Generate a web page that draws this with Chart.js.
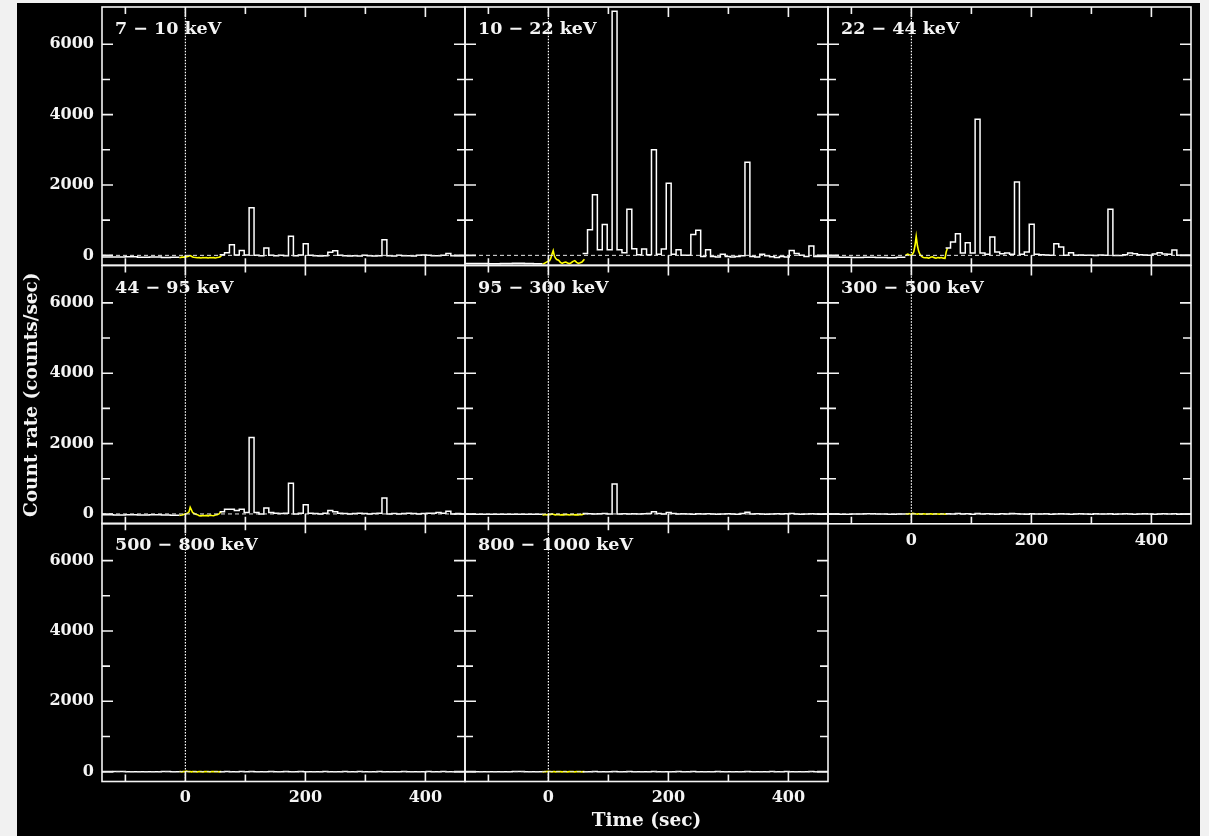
<!DOCTYPE html>
<html>
<head>
<meta charset="utf-8">
<title>Light curves by energy band</title>
<script src="https://cdn.jsdelivr.net/npm/chart.js@4.4.1/dist/chart.umd.min.js"></script>
<style>
    html, body { margin: 0; padding: 0; width: 1209px; height: 836px; overflow: hidden; background: #f1f1f1; }
    #sheet { position: absolute; left: 17px; top: 3px; width: 1183px; height: 833px; background: #000; }
    canvas { position: absolute; left: 0; top: 0; }
</style>
</head>
<body>
<div id="sheet"></div>
<script>
// Energy bands, one panel each
const BANDS = ['7 − 10 keV', '10 − 22 keV', '22 − 44 keV', '44 − 95 keV',
               '95 − 300 keV', '300 − 500 keV', '500 − 800 keV', '800 − 1000 keV'];

// Axis ticks
const X_TICKS = [-100, 0, 100, 200, 300, 400];
const X_LABELS = [0, 200, 400];
const Y_TICKS = [0, 1000, 2000, 3000, 4000, 5000, 6000];
const Y_LABELS = [0, 2000, 4000, 6000];

// Binned count rate after the trigger (bins of BIN_WIDTH s from BIN_START)
const BIN_START = 57;
const BIN_WIDTH = 8.2;

const hist_7_10 = [20, 75, 300, 10, 140, 10, 1355, 0, -10, 210,
                   0, -10, 0, -10, 540, -10, 10, 330, 0, -10,
                   -20, -10, 85, 130, 0, -10, -20, -10, -20, 0,
                   -10, -20, -10, 445, -10, -20, 0, -10, -10, -20,
                   0, 10, 0, -10, -10, 0, 50, -10, -10, -10];
const hist_10_22 = [50, 730, 1725, 160, 880, 160, 6940, 160, 75, 1310,
                    190, 20, 180, 20, 3000, 30, 180, 2050, 30, 160,
                    0, 0, 590, 710, -30, 160, -30, -50, 30, -30,
                    -50, -30, -10, 2645, -30, -50, 30, -10, -40, -60,
                    -30, -50, 140, 50, 0, -30, 265, -30, -30, -30];
const hist_22_44 = [208, 380, 617, 66, 361, 66, 3867, 66, 28, 521,
                    95, 47, 66, 28, 2086, 28, 95, 882, 28, 20,
                    10, 5, 330, 237, 5, 76, 5, 10, 0, 5,
                    -5, 10, 0, 1308, -5, -5, 20, 66, 47, 20,
                    10, 0, 38, 76, 38, 28, 150, 0, 0, 0];
const hist_44_95 = [66, 133, 133, 95, 133, 38, 2170, 38, 0, 170,
                    38, 20, 10, 20, 872, 0, 20, 265, 20, 10,
                    0, 20, 95, 66, 20, 10, 0, 10, 20, 10,
                    0, 10, 20, 455, 0, 10, 0, 10, 20, 10,
                    0, 10, 20, 20, 40, 20, 76, 0, 10, 0];
const hist_95_300 = [10, 5, 0, 5, 10, 0, 853, 0, 5, 0,
                     5, 0, 5, 10, 66, 10, 0, 38, 10, 0,
                     5, 0, -5, 5, 0, 5, 0, -5, 0, 5,
                     0, -5, 10, 47, 0, 5, 0, -5, 0, 5,
                     0, 5, 10, 0, -5, 0, 5, 0, -5, 0];
const hist_300_500 = [5, 0, 10, 0, 5, -5, 10, 0, 5, 0,
                      -5, 5, 0, 10, 5, 0, -5, 5, 0, 0,
                      5, -5, 0, 5, 0, -5, 0, 5, 0, -5,
                      5, 0, 0, 5, -5, 0, 5, 0, -5, 0,
                      5, 0, -5, 0, 5, 0, 5, -5, 0, 0];
const hist_500_800 = [0, 5, 0, -5, 5, 0, 5, 0, -5, 0,
                      5, 0, 0, 5, -5, 0, 5, 0, 0, -5,
                      0, 5, 0, -5, 0, 5, 0, 0, 5, 0,
                      -5, 0, 5, 0, 0, -5, 0, 5, 0, 0,
                      -5, 0, 5, 0, 0, 5, 0, -5, 0, 0];
const hist_800_1000 = [0, 0, 5, 0, -5, 0, 5, 0, 0, 5,
                       0, -5, 0, 0, 5, 0, 0, -5, 0, 5,
                       0, 0, 5, 0, -5, 0, 0, 5, 0, 0,
                       -5, 0, 0, 5, 0, 0, -5, 0, 5, 0,
                       0, 5, 0, -5, 0, 0, 5, 0, 0, -5];

// Pre-trigger background-subtracted level
const PRE_TIMES = [-139, -120, -100, -80, -60, -40, -25, -10];
const pre_7_10 = [-45, -50, -40, -55, -50, -60, -55];
const pre_10_22 = [-230, -235, -240, -230, -225, -235, -240];
const pre_22_44 = [-50, -55, -60, -55, -60, -65, -55];
const pre_44_95 = [-25, -30, -20, -30, -25, -30, -35];
const pre_95_300 = [-5, -10, -5, -10, -5, -10, -5];
const pre_300_500 = [0, -5, 0, 5, 0, -5, 0];
const pre_500_800 = [0, 5, 0, -5, 0, 5, 0];
const pre_800_1000 = [0, -5, 0, 0, 5, 0, -5];

// High-resolution rate around the trigger
const YEL_TIMES = [-10, -8, -6, -4, -2, 0, 2, 4, 6, 8, 10, 12, 14, 17, 20,
                   23, 26, 29, 32, 35, 38, 41, 44, 47, 50, 53, 56, 58, 60];
const yel_7_10 = [-70, -60, -50, -55, -45, -50, -40, -30, -20, -5, -25, -45, -55, -60, -70,
                  -65, -75, -60, -70, -65, -75, -60, -70, -65, -75, -60, -55, -40, -10];
const yel_10_22 = [-245, -240, -220, -200, -180, -170, -150, -80, 40, 133, -20, -80, -120, -140, -200,
                   -230, -200, -190, -215, -235, -210, -170, -150, -200, -228, -210, -190, -150, -110];
const yel_22_44 = [-10, 20, 37, 20, 10, 0, 40, 100, 280, 540, 280, 120, 37, -30, -60,
                   -70, -65, -80, -55, -40, -65, -80, -60, -70, -60, -80, -85, 100, 200];
const yel_44_95 = [-40, -35, -30, -20, -10, 0, 10, 30, 60, 190, 120, 40, 20, -10, -20,
                   -50, -55, -40, -50, -40, -55, -35, -45, -50, -30, -20, 0, 40, 66];
const yel_95_300 = [-20, -25, -15, -20, -30, -10, -20, -15, 0, -10, -20, -25, -15, -20, -30,
                    -20, -25, -15, -20, -30, -20, -15, -25, -20, -30, -15, -20, -10, -5];
const yel_300_500 = [0, 5, -5, 10, 0, 5, 15, 10, 5, 0, -5, 5, 0, -5, 5,
                     0, -5, 0, 5, -5, 0, 5, 0, -5, 5, 0, -5, 0, 5];
const yel_500_800 = [5, 0, -5, 5, 0, 10, 15, 5, 0, 5, -5, 0, 5, 0, -5,
                     5, 0, -5, 0, 5, 0, -5, 5, 0, 0, 5, -5, 0, 5];
const yel_800_1000 = [0, -5, 5, 0, 5, 10, 5, 0, -5, 5, 0, -5, 0, 5, 0,
                      -5, 5, 0, -5, 0, 5, 0, -5, 0, 5, 0, -5, 5, 0];

const HIST = [hist_7_10, hist_10_22, hist_22_44, hist_44_95, hist_95_300, hist_300_500, hist_500_800, hist_800_1000];
const PRE = [pre_7_10, pre_10_22, pre_22_44, pre_44_95, pre_95_300, pre_300_500, pre_500_800, pre_800_1000];
const YEL = [yel_7_10, yel_10_22, yel_22_44, yel_44_95, yel_95_300, yel_300_500, yel_500_800, yel_800_1000];

// Layout of the 3x3 grid (last cell empty)
const PAGE_W = 1209, PAGE_H = 836;
const SHEET_LEFT = 17;
const COL_LEFT = [102, 465, 828];
const COL_WIDTH = 363;
const ROW_TOP = [7, 265.6, 523.3];
const ROW_HEIGHT = 258.2;
const X_MIN = -139, X_MAX = 466;
const Y_MIN = -280, Y_MAX = 7060;

const INK = '#f4f4f4';
const FONT_FAMILY = '"DejaVu Serif", "Liberation Serif", serif';

// frame, inward tick marks and band label for each panel
const panelFrame = {
    id: 'panelFrame',
    afterDatasetsDraw(chart, args, opts) {
        const { ctx, chartArea: a, scales: { x, y } } = chart;
        ctx.save();
        ctx.strokeStyle = INK;
        ctx.lineWidth = 1.6;
        ctx.strokeRect(a.left, a.top, a.width, a.height);

        ctx.beginPath();
        X_TICKS.forEach(v => {
            const px = x.getPixelForValue(v);
            const len = X_LABELS.includes(v) ? 10 : 7;
            ctx.moveTo(px, a.top);
            ctx.lineTo(px, a.top + len);
            ctx.moveTo(px, a.bottom);
            ctx.lineTo(px, a.bottom - len);
        });
        Y_TICKS.forEach(v => {
            const py = y.getPixelForValue(v);
            const len = Y_LABELS.includes(v) ? 11 : 8;
            ctx.moveTo(a.left, py);
            ctx.lineTo(a.left + len, py);
            ctx.moveTo(a.right, py);
            ctx.lineTo(a.right - len, py);
        });
        ctx.stroke();

        ctx.fillStyle = INK;
        ctx.font = 'bold 17.5px ' + FONT_FAMILY;
        ctx.textBaseline = 'alphabetic';
        ctx.textAlign = 'left';
        ctx.fillText(opts.band, a.left + 13, a.top + 27);
        ctx.restore();
    }
};

function histPoints(values) {
    const pts = values.map((v, i) => ({ x: BIN_START + i * BIN_WIDTH, y: v }));
    pts.push({ x: BIN_START + values.length * BIN_WIDTH, y: values[values.length - 1] });
    return pts;
}

function prePoints(values) {
    const pts = values.map((v, i) => ({ x: PRE_TIMES[i], y: v }));
    pts.push({ x: PRE_TIMES[values.length], y: values[values.length - 1] });
    return pts;
}

function renderPanel(i) {
    const row = Math.floor(i / 3);
    const col = i % 3;
    const left = COL_LEFT[col];
    const top = ROW_TOP[row];
    const right = left + COL_WIDTH;
    const bottom = top + ROW_HEIGHT;

    const showY = col === 0;
    const showX = row === 2 || i === 5;
    const yTitle = i === 3;
    const xTitle = i === 7;
    // tick labels are clipped to the axis box, so labelled axes need real room
    const yWidth = showY ? left - SHEET_LEFT : 0;
    const xHeight = showX ? Math.min(PAGE_H - bottom, 60) : 0;

    const canvas = document.createElement('canvas');
    canvas.width = PAGE_W;
    canvas.height = PAGE_H;
    document.body.appendChild(canvas);

    const tickFont = { family: FONT_FAMILY, size: 16, weight: 'bold' };
    const titleFont = { family: FONT_FAMILY, size: 18.5, weight: 'bold' };

    return new Chart(canvas.getContext('2d'), {
        type: 'line',
        data: {
            datasets: [{
                data: [{ x: X_MIN, y: 0 }, { x: X_MAX, y: 0 }],
                borderColor: '#e6e6e6',
                borderWidth: 1,
                borderDash: [4, 3]
            }, {
                data: [{ x: 0, y: Y_MIN }, { x: 0, y: Y_MAX }],
                borderColor: '#ffffff',
                borderWidth: 1.2,
                borderDash: [1.5, 1.5]
            }, {
                data: prePoints(PRE[i]),
                borderColor: '#ffffff',
                borderWidth: 1.5,
                stepped: true
            }, {
                data: histPoints(HIST[i]),
                borderColor: '#ffffff',
                borderWidth: 1.5,
                stepped: true
            }, {
                data: YEL_TIMES.map((t, k) => ({ x: t, y: YEL[i][k] })),
                borderColor: '#ffff00',
                borderWidth: 1.6
            }]
        },
        options: {
            responsive: false,
            animation: false,
            devicePixelRatio: 1,
            elements: { point: { radius: 0 }, line: { tension: 0 } },
            layout: {
                padding: {
                    left: left - yWidth,
                    top: top,
                    right: PAGE_W - right,
                    bottom: PAGE_H - bottom - xHeight
                }
            },
            plugins: {
                legend: { display: false },
                tooltip: { enabled: false },
                panelFrame: { band: BANDS[i] }
            },
            scales: {
                x: {
                    type: 'linear',
                    min: X_MIN,
                    max: X_MAX,
                    afterBuildTicks: axis => { axis.ticks = X_LABELS.map(v => ({ value: v })); },
                    afterFit: axis => {
                        axis.height = xHeight;
                        axis.paddingLeft = axis.paddingRight = axis.paddingTop = axis.paddingBottom = 0;
                    },
                    grid: { display: false, drawTicks: false },
                    border: { display: false },
                    ticks: {
                        display: showX,
                        color: INK,
                        font: tickFont,
                        padding: 7,
                        maxRotation: 0,
                        autoSkip: false,
                        callback: v => String(v)
                    },
                    title: {
                        display: xTitle,
                        text: 'Time (sec)',
                        color: INK,
                        font: titleFont,
                        padding: { top: 0, bottom: 4 }
                    }
                },
                y: {
                    type: 'linear',
                    min: Y_MIN,
                    max: Y_MAX,
                    afterBuildTicks: axis => { axis.ticks = Y_LABELS.map(v => ({ value: v })); },
                    afterFit: axis => {
                        axis.width = yWidth;
                        axis.paddingLeft = axis.paddingRight = axis.paddingTop = axis.paddingBottom = 0;
                    },
                    grid: { display: false, drawTicks: false },
                    border: { display: false },
                    ticks: {
                        display: showY,
                        color: INK,
                        font: tickFont,
                        padding: 8,
                        autoSkip: false,
                        callback: v => String(v)
                    },
                    title: {
                        display: yTitle,
                        text: 'Count rate (counts/sec)',
                        color: INK,
                        font: titleFont,
                        padding: { top: 4, bottom: 0 }
                    }
                }
            }
        },
        plugins: [panelFrame]
    });
}

const charts = BANDS.map((band, i) => renderPanel(i));
</script>
</body>
</html>
